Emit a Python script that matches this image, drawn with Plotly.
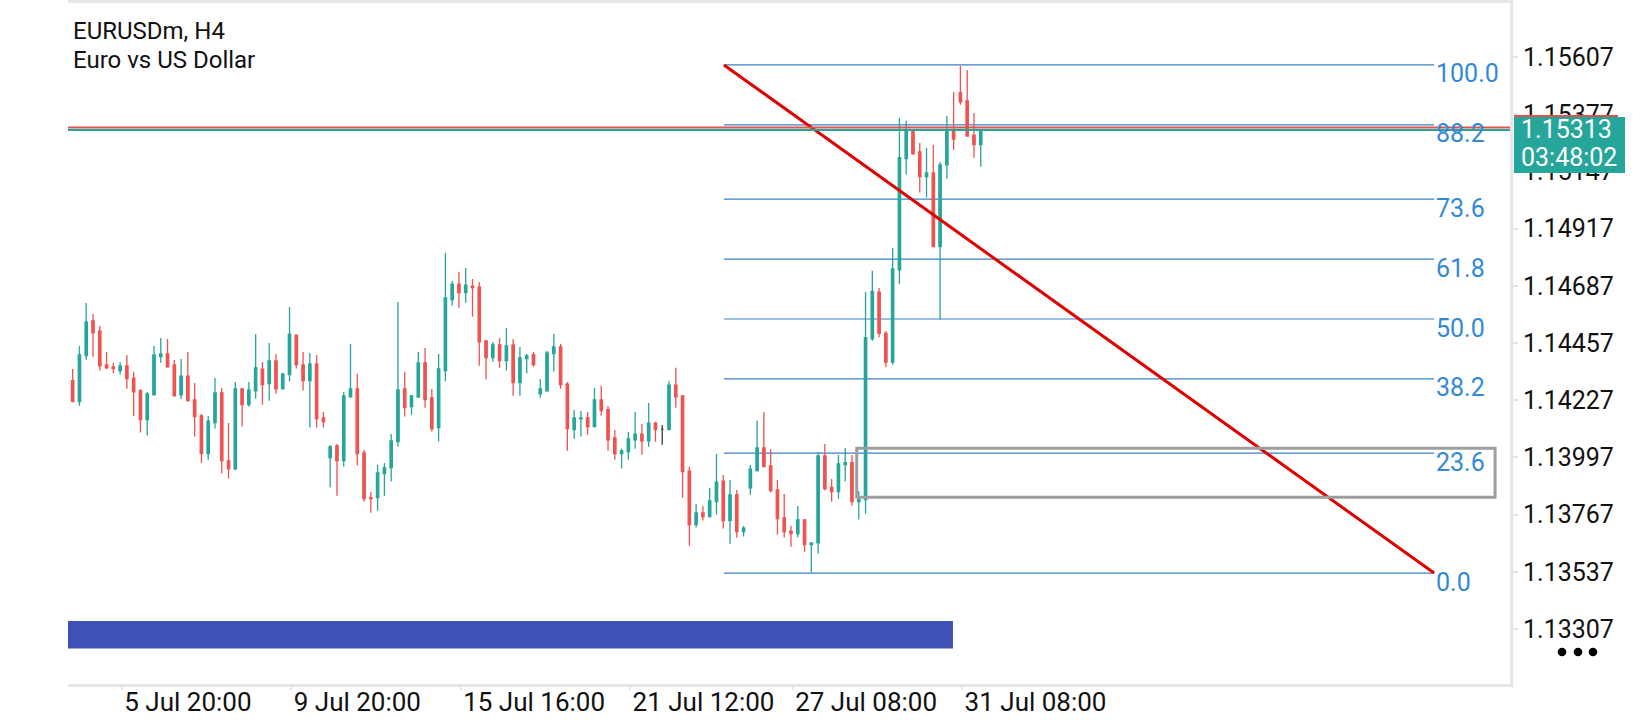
#!/usr/bin/env python3
"""
EURUSDm H4 chart with a Fibonacci retracement, in the look of the MT5 mobile app.
Writes out.html.
"""

import plotly.graph_objects as go

# --------------------------------------------------------------------------- #
# Data
# --------------------------------------------------------------------------- #

SYMBOL = "EURUSDm, H4"
DESCRIPTION = "Euro vs US Dollar"

OPEN = [
    1.14306, 1.14221, 1.14406, 1.14546, 1.14505, 1.14369, 1.14361, 1.14346, 1.14365, 1.14316,
    1.14264, 1.14149, 1.14249, 1.14402, 1.14413, 1.14369, 1.14249, 1.14324, 1.14228, 1.14164,
    1.14012, 1.14137, 1.14256, 1.13983, 1.13951, 1.14272, 1.14209, 1.14265, 1.14352, 1.14294,
    1.14385, 1.14273, 1.14330, 1.14489, 1.14369, 1.14306, 1.14373, 1.14156, 1.13996, 1.14043,
    1.13984, 1.14241, 1.14272, 1.14015, 1.13835, 1.13835, 1.13932, 1.13956, 1.14061, 1.14272,
    1.14201, 1.14240, 1.14377, 1.14236, 1.14117, 1.14346, 1.14631, 1.14694, 1.14660, 1.14686,
    1.14682, 1.14465, 1.14398, 1.14449, 1.14386, 1.14449, 1.14298, 1.14394, 1.14410, 1.14253,
    1.14265, 1.14414, 1.14441, 1.14292, 1.14109, 1.14152, 1.14156, 1.14121, 1.14228, 1.14189,
    1.14075, 1.14012, 1.14020, 1.14068, 1.14091, 1.14064, 1.14135, 1.14110, 1.14110, 1.14288,
    1.14244, 1.13942, 1.13727, 1.13774, 1.13759, 1.13819, 1.13902, 1.13743, 1.13846, 1.13699,
    1.13875, 1.13944, 1.14035, 1.13963, 1.13866, 1.13754, 1.13701, 1.13691, 1.13746, 1.13646,
    1.13653, 1.14003, 1.13876, 1.13860, 1.13968, 1.13976, 1.13819, 1.13827, 1.14475, 1.14661,
    1.14496, 1.14380, 1.14751, 1.15198, 1.15308, 1.15225, 1.15126, 1.15141, 1.14845, 1.15173,
    1.15309, 1.15464, 1.15430, 1.15293, 1.15255,
]
HIGH = [
    1.14352, 1.14445, 1.14618, 1.14574, 1.14525, 1.14421, 1.14377, 1.14381, 1.14409, 1.14341,
    1.14272, 1.14260, 1.14445, 1.14477, 1.14473, 1.14389, 1.14393, 1.14421, 1.14296, 1.14172,
    1.14164, 1.14316, 1.14276, 1.14135, 1.14300, 1.14276, 1.14300, 1.14493, 1.14381, 1.14457,
    1.14413, 1.14336, 1.14602, 1.14489, 1.14421, 1.14417, 1.14409, 1.14180, 1.14047, 1.14051,
    1.14260, 1.14453, 1.14333, 1.14027, 1.13858, 1.13967, 1.13975, 1.14091, 1.14622, 1.14341,
    1.14248, 1.14421, 1.14437, 1.14272, 1.14413, 1.14819, 1.14706, 1.14743, 1.14759, 1.14714,
    1.14702, 1.14469, 1.14461, 1.14477, 1.14517, 1.14473, 1.14441, 1.14413, 1.14421, 1.14312,
    1.14425, 1.14493, 1.14453, 1.14300, 1.14189, 1.14184, 1.14180, 1.14276, 1.14284, 1.14204,
    1.14107, 1.14032, 1.14099, 1.14180, 1.14131, 1.14216, 1.14140, 1.14127, 1.14304, 1.14357,
    1.14248, 1.13959, 1.13810, 1.13802, 1.13874, 1.14011, 1.13926, 1.13906, 1.13866, 1.13721,
    1.13967, 1.14144, 1.14180, 1.14031, 1.13906, 1.13850, 1.13722, 1.13802, 1.13746, 1.13653,
    1.14019, 1.14051, 1.13910, 1.14007, 1.14035, 1.14007, 1.13862, 1.14662, 1.14747, 1.14678,
    1.14505, 1.14839, 1.15363, 1.15351, 1.15314, 1.15261, 1.15241, 1.15253, 1.15185, 1.15370,
    1.15466, 1.15571, 1.15555, 1.15382, 1.15314,
]
LOW = [
    1.14221, 1.14205, 1.14390, 1.14402, 1.14346, 1.14352, 1.14334, 1.14330, 1.14273, 1.14164,
    1.14097, 1.14085, 1.14249, 1.14378, 1.14358, 1.14245, 1.14232, 1.14221, 1.14081, 1.13976,
    1.13988, 1.14113, 1.13932, 1.13912, 1.13946, 1.14121, 1.14201, 1.14233, 1.14209, 1.14225,
    1.14253, 1.14273, 1.14302, 1.14354, 1.14266, 1.14117, 1.14117, 1.14117, 1.13876, 1.13843,
    1.13960, 1.14237, 1.13964, 1.13819, 1.13775, 1.13783, 1.13843, 1.13900, 1.14040, 1.14161,
    1.14169, 1.14237, 1.14197, 1.14101, 1.14061, 1.14302, 1.14607, 1.14599, 1.14619, 1.14563,
    1.14366, 1.14310, 1.14382, 1.14358, 1.14346, 1.14245, 1.14245, 1.14334, 1.14362, 1.14237,
    1.14261, 1.14342, 1.14273, 1.14024, 1.14072, 1.14081, 1.14089, 1.14121, 1.14165, 1.14024,
    1.13988, 1.13952, 1.13988, 1.14032, 1.14008, 1.14040, 1.14060, 1.14048, 1.14105, 1.14197,
    1.13835, 1.13642, 1.13715, 1.13743, 1.13755, 1.13767, 1.13711, 1.13650, 1.13674, 1.13679,
    1.13847, 1.13940, 1.13960, 1.13856, 1.13687, 1.13675, 1.13638, 1.13675, 1.13618, 1.13534,
    1.13610, 1.13864, 1.13819, 1.13831, 1.13900, 1.13803, 1.13747, 1.13771, 1.14466, 1.14480,
    1.14360, 1.14370, 1.14693, 1.15134, 1.15214, 1.15062, 1.15042, 1.14845, 1.14550, 1.15118,
    1.15234, 1.15415, 1.15289, 1.15202, 1.15166,
]
CLOSE = [
    1.14221, 1.14409, 1.14541, 1.14499, 1.14365, 1.14357, 1.14354, 1.14365, 1.14314, 1.14261,
    1.14149, 1.14252, 1.14409, 1.14413, 1.14361, 1.14245, 1.14324, 1.14225, 1.14161, 1.14012,
    1.14143, 1.14256, 1.13984, 1.13952, 1.14272, 1.14209, 1.14268, 1.14357, 1.14290, 1.14385,
    1.14273, 1.14332, 1.14493, 1.14370, 1.14306, 1.14373, 1.14153, 1.14141, 1.14039, 1.13984,
    1.14244, 1.14272, 1.14012, 1.13831, 1.13831, 1.13935, 1.13955, 1.14063, 1.14268, 1.14197,
    1.14244, 1.14377, 1.14229, 1.14113, 1.14353, 1.14638, 1.14694, 1.14660, 1.14690, 1.14680,
    1.14462, 1.14398, 1.14449, 1.14386, 1.14445, 1.14298, 1.14397, 1.14405, 1.14370, 1.14272,
    1.14417, 1.14441, 1.14290, 1.14113, 1.14156, 1.14156, 1.14121, 1.14228, 1.14185, 1.14068,
    1.14012, 1.14023, 1.14071, 1.14091, 1.14064, 1.14135, 1.14109, 1.14110, 1.14288, 1.14241,
    1.13940, 1.13727, 1.13774, 1.13759, 1.13822, 1.13898, 1.13743, 1.13846, 1.13699, 1.13713,
    1.13950, 1.14035, 1.13960, 1.13864, 1.13751, 1.13699, 1.13691, 1.13746, 1.13646, 1.13653,
    1.14003, 1.13872, 1.13860, 1.13971, 1.13976, 1.13819, 1.13827, 1.14479, 1.14664, 1.14496,
    1.14380, 1.14755, 1.15202, 1.15314, 1.15217, 1.15126, 1.15141, 1.14845, 1.15173, 1.15309,
    1.15277, 1.15427, 1.15289, 1.15255, 1.15313,
]

# time axis labels and the bar they sit on
TICK_BARS = [7, 32, 57, 82, 106, 131]
TICK_TEXT = ["5 Jul 20:00", "9 Jul 20:00", "15 Jul 16:00", "21 Jul 12:00",
             "27 Jul 08:00", "31 Jul 08:00"]

# price scale
PRICE_TICKS = [1.15607, 1.15377, 1.15147, 1.14917, 1.14687, 1.14457,
               1.14227, 1.13997, 1.13767, 1.13537, 1.13307]

BID = 1.15313
ASK = 1.15323
COUNTDOWN = "03:48:02"

# Fibonacci retracement: anchor bars and prices
FIB_BARS = (96.1, 200.9)
FIB_HIGH = 1.15575
FIB_LOW = 1.13532
FIB_LEVELS = [100.0, 88.2, 73.6, 61.8, 50.0, 38.2, 23.6, 0.0]

# rectangle objects drawn on the chart: (bar0, bar1, price_top, price_bottom)
ZONE_BOX = (115.7, 209.9, 1.14034, 1.13837)
BLUE_BAR = (-5.0, 129.9, 1.13339, 1.13229)

# --------------------------------------------------------------------------- #
# Styling
# --------------------------------------------------------------------------- #

BULL = "#26a69a"
BEAR = "#ef5350"
DOJI = "#3a3a3a"
FIB_LINE = "#3b82c8"
FIB_TEXT = "#3389d8"
FRAME = "#e6e6e6"
FONT = "Roboto"
INK = "#111111"

X_RANGE = [-0.69, 212.1]
Y_RANGE = [1.13086, 1.15824]


def _frac(price: float) -> float:
    """Price as a fraction of the plot height."""
    return (price - Y_RANGE[0]) / (Y_RANGE[1] - Y_RANGE[0])


# --------------------------------------------------------------------------- #
# Figure
# --------------------------------------------------------------------------- #

bars = list(range(len(OPEN)))
doji = [i for i in bars if OPEN[i] == CLOSE[i]]
normal = [i for i in bars if i not in doji]

fig = go.Figure()

fig.add_trace(go.Candlestick(
    x=normal,
    open=[OPEN[i] for i in normal],
    high=[HIGH[i] for i in normal],
    low=[LOW[i] for i in normal],
    close=[CLOSE[i] for i in normal],
    increasing=dict(line=dict(color=BULL, width=1.3), fillcolor=BULL),
    decreasing=dict(line=dict(color=BEAR, width=1.3), fillcolor=BEAR),
    hoverinfo="skip",
    showlegend=False,
))
fig.add_trace(go.Candlestick(
    x=doji,
    open=[OPEN[i] for i in doji],
    high=[HIGH[i] for i in doji],
    low=[LOW[i] for i in doji],
    close=[CLOSE[i] for i in doji],
    increasing=dict(line=dict(color=DOJI, width=1.3), fillcolor=DOJI),
    decreasing=dict(line=dict(color=DOJI, width=1.3), fillcolor=DOJI),
    hoverinfo="skip",
    showlegend=False,
))

shapes = []
annotations = []

# fibonacci levels + labels
span = FIB_HIGH - FIB_LOW
for lvl in FIB_LEVELS:
    price = FIB_LOW + span * lvl / 100
    shapes.append(dict(type="line", xref="x", yref="y", layer="below",
                       x0=FIB_BARS[0], x1=FIB_BARS[1], y0=price, y1=price,
                       line=dict(color=FIB_LINE, width=1.2)))
    annotations.append(dict(xref="x", yref="y", x=FIB_BARS[1], y=price,
                            xanchor="left", yanchor="middle", yshift=-9,
                            text=f"{lvl:.1f}", showarrow=False,
                            font=dict(family=FONT, size=25, color=FIB_TEXT)))

# fib trend line (high -> low)
shapes.append(dict(type="line", xref="x", yref="y", layer="above",
                   x0=FIB_BARS[0], y0=FIB_HIGH, x1=FIB_BARS[1], y1=FIB_LOW,
                   line=dict(color="#e00000", width=3)))

# grey zone rectangle and blue bar
b0, b1, top, bot = ZONE_BOX
shapes.append(dict(type="rect", xref="x", yref="y", layer="above",
                   x0=b0, x1=b1, y0=bot, y1=top,
                   line=dict(color="#9e9e9e", width=3)))
b0, b1, top, bot = BLUE_BAR
shapes.append(dict(type="rect", xref="x", yref="y", layer="above",
                   x0=b0, x1=b1, y0=bot, y1=top,
                   fillcolor="#3f51b5", line=dict(width=0)))

# bid / ask lines
for price, col in ((ASK, "#e0524f"), (BID, BULL)):
    shapes.append(dict(type="line", xref="paper", yref="y", layer="above",
                       x0=0, x1=1, y0=price, y1=price,
                       line=dict(color=col, width=2)))

# price tags on the scale (ask tag hides behind the bid tag)
shapes.append(dict(type="rect", xref="paper", yref="paper",
                   xsizemode="pixel", ysizemode="pixel",
                   xanchor=1, yanchor=_frac(ASK), x0=4, x1=108, y0=12.7, y1=-43,
                   fillcolor="#e0524f", line=dict(width=0), layer="above"))
shapes.append(dict(type="rect", xref="paper", yref="paper",
                   xsizemode="pixel", ysizemode="pixel",
                   xanchor=1, yanchor=_frac(BID), x0=4, x1=115, y0=13, y1=-43,
                   fillcolor=BULL, line=dict(width=0), layer="above"))
for text, dy in ((f"{BID:.5f}", 1), (COUNTDOWN, -27)):
    annotations.append(dict(xref="paper", yref="paper", x=1, y=_frac(BID),
                            xanchor="left", yanchor="middle", xshift=9, yshift=dy,
                            text=text, showarrow=False,
                            font=dict(family=FONT, size=25, color="white")))

# menu dots under the price scale
for dx in (52, 68, 83):
    shapes.append(dict(type="circle", xref="paper", yref="paper",
                       xsizemode="pixel", ysizemode="pixel", xanchor=1, yanchor=0,
                       x0=dx - 4.3, x1=dx + 4.3, y0=32 - 4.3, y1=32 + 4.3,
                       fillcolor="black", line=dict(width=0)))

# symbol header
for text, dy in ((SYMBOL, -28), (DESCRIPTION, -57)):
    annotations.append(dict(xref="paper", yref="paper", x=0, y=1,
                            xanchor="left", yanchor="middle", xshift=3, yshift=dy,
                            text=text, showarrow=False,
                            font=dict(family=FONT, size=24, color=INK)))

fig.update_layout(
    width=1640,
    height=720,
    margin=dict(l=68, r=130, t=3, b=36),
    paper_bgcolor="white",
    plot_bgcolor="white",
    font=dict(family=FONT, size=24, color=INK),
    boxgap=0.5,
    showlegend=False,
    shapes=shapes,
    annotations=annotations,
    xaxis=dict(
        range=X_RANGE,
        automargin=False,
        rangeslider=dict(visible=False),
        tickvals=[b + 0.25 for b in TICK_BARS],
        ticktext=TICK_TEXT,
        ticklabelposition="outside right",
        ticklabelstandoff=-7,
        ticks="outside", ticklen=3, tickwidth=2, tickcolor=FRAME,
        showgrid=False, zeroline=False,
        showline=True, linecolor=FRAME, linewidth=3, mirror=True,
        tickfont=dict(family=FONT, size=26, color=INK),
        fixedrange=True,
    ),
    yaxis=dict(
        range=Y_RANGE,
        automargin=False,
        side="right",
        tickvals=PRICE_TICKS,
        ticktext=[f"{p:.5f}" for p in PRICE_TICKS],
        ticks="outside", ticklen=5, tickwidth=2, tickcolor=FRAME,
        showgrid=False, zeroline=False,
        showline=True, linecolor=FRAME, linewidth=3,
        tickfont=dict(family=FONT, size=25, color=INK),
        fixedrange=True,
    ),
)

fig.write_html(
    "out.html",
    config={"displayModeBar": False},
    post_script="document.body.style.margin = '0';",
)
